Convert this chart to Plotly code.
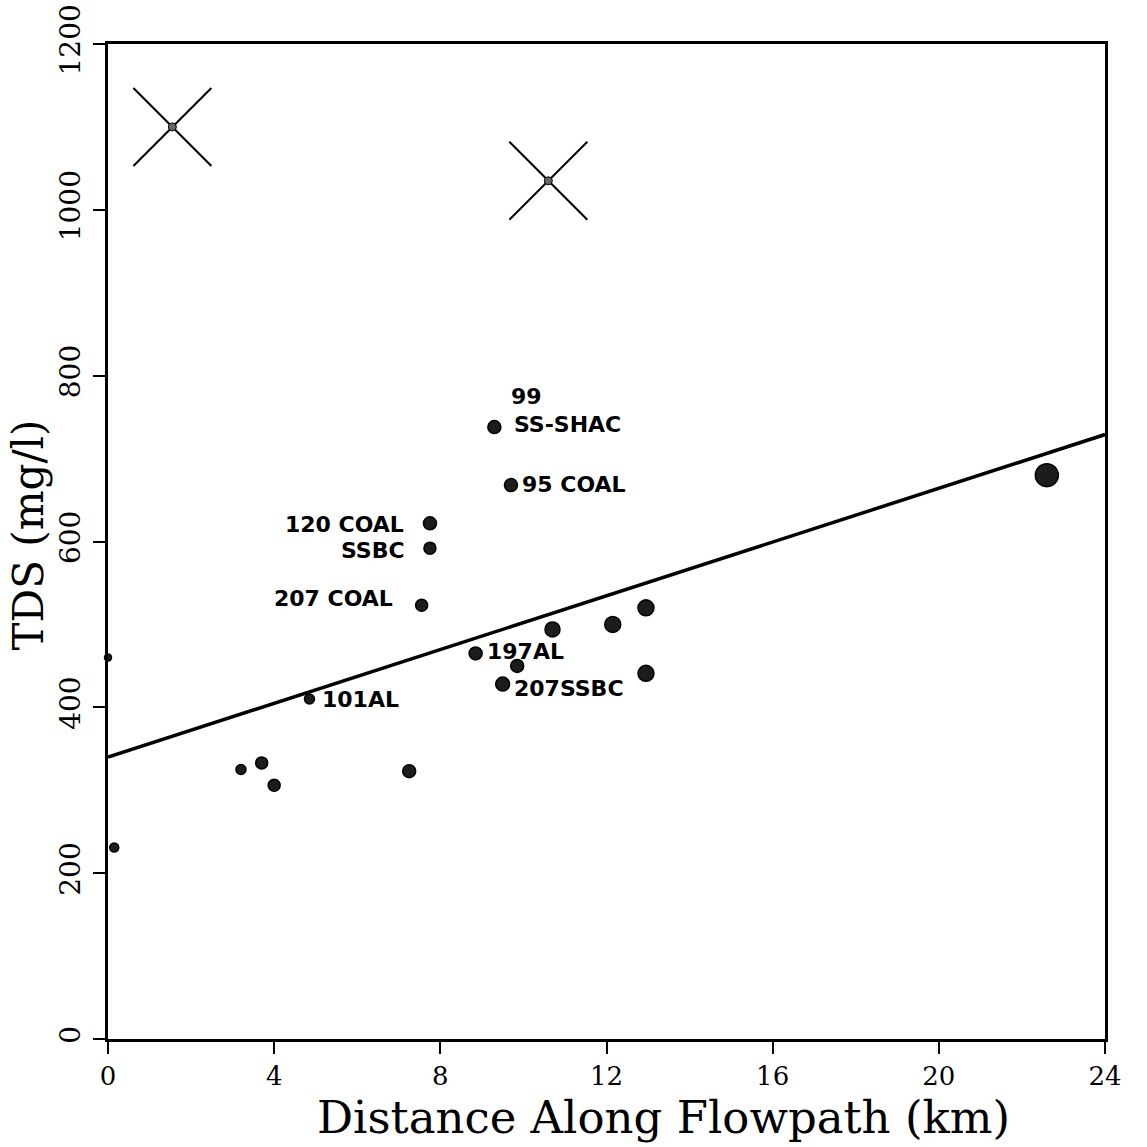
import plotly.graph_objects as go

# ---- data ----
# labelled sampling sites
site_x = [9.3, 9.7, 7.75, 7.75, 7.55, 8.85, 9.5, 4.85]
site_tds = [738, 668, 622, 592, 523, 465, 428, 410]
site_label = ["SS-SHAC", "95 COAL", "120 COAL", "SSBC", "207 COAL", "197AL", "207SSBC", "101AL"]

# unlabelled sampling sites
other_x = [9.85, 10.7, 12.15, 12.95, 12.95, 22.6, 3.2, 3.7, 4.0, 7.25, 0.15, 0.0]
other_tds = [450, 494, 500, 520, 441, 680, 325, 333, 306, 323, 231, 460]

# crossed-out samples
cross_x = [1.55, 10.6]
cross_tds = [1100, 1035]

# regression line end points
fit_x = [0, 24]
fit_tds = [340, 729]

x_ticks = [0, 4, 8, 12, 16, 20, 24]
y_ticks = [0, 200, 400, 600, 800, 1000, 1200]

# ---- styles ----
site_sizes = [13, 13, 13, 12, 12, 13, 14, 10]
other_sizes = [13, 15, 16, 16, 16, 23, 10, 12, 12, 13, 9, 7]
# label placement: (xanchor, xshift, yshift)
label_pos = [("left", 18, 3), ("left", 9, 1), ("right", -24, -1), ("right", -23, -2),
             ("right", -27, 7), ("left", 9, 2), ("left", 9, -4), ("left", 11, 0)]

SERIF = "DejaVu Serif"
SANS = "DejaVu Sans"
DOT_FILL = "#1c1c1c"
LABEL_FONT = dict(family=SANS, size=22, color="black", weight="bold")

fig = go.Figure()

fig.add_trace(go.Scatter(
    x=fit_x, y=fit_tds, mode="lines",
    line=dict(color="black", width=3.5), hoverinfo="skip", cliponaxis=False))

fig.add_trace(go.Scatter(
    x=cross_x, y=cross_tds, mode="markers",
    marker=dict(symbol="x-thin", size=78, line=dict(color="black", width=2)),
    cliponaxis=False))
fig.add_trace(go.Scatter(
    x=cross_x, y=cross_tds, mode="markers",
    marker=dict(symbol="circle", size=8, color="#666", line=dict(color="black", width=1)),
    cliponaxis=False))

fig.add_trace(go.Scatter(
    x=other_x, y=other_tds, mode="markers",
    marker=dict(symbol="circle", size=other_sizes, color=DOT_FILL, opacity=1,
                line=dict(color="black", width=1.5)),
    cliponaxis=False))

fig.add_trace(go.Scatter(
    x=site_x, y=site_tds, mode="markers",
    marker=dict(symbol="circle", size=site_sizes, color=DOT_FILL, opacity=1,
                line=dict(color="black", width=1.5)),
    cliponaxis=False))

for xv, yv, txt, (anc, xs, ys) in zip(site_x, site_tds, site_label, label_pos):
    fig.add_annotation(x=xv, y=yv, text=txt, showarrow=False, xanchor=anc, yanchor="middle",
                       xshift=xs, yshift=ys, font=LABEL_FONT)
# the "99" line above SS-SHAC
fig.add_annotation(x=site_x[0], y=site_tds[0], text="99", showarrow=False, xanchor="left",
                   yanchor="middle", xshift=15, yshift=31, font=LABEL_FONT)

# axis titles placed as annotations (paper coordinates)
fig.add_annotation(xref="paper", yref="paper", x=0.5, y=0, xshift=57, yshift=-78,
                   xanchor="center", yanchor="middle", showarrow=False,
                   text="Distance Along Flowpath (km)",
                   font=dict(family=SERIF, size=45, color="black"))
fig.add_annotation(xref="paper", yref="paper", x=0, y=0.5, xshift=-80, yshift=6,
                   xanchor="center", yanchor="middle", showarrow=False, textangle=-90,
                   text="TDS (mg/l)",
                   font=dict(family=SERIF, size=42, color="black"))

axis_common = dict(
    showline=True, linecolor="black", linewidth=3, mirror=True,
    showgrid=False, zeroline=False, ticks="outside", ticklen=12, tickwidth=2,
    tickcolor="black", fixedrange=True, ticklabeloverflow="allow", automargin=False,
)

fig.update_layout(
    width=1147, height=1147,
    margin=dict(l=108, r=42, t=44, b=108, autoexpand=False),
    paper_bgcolor="white", plot_bgcolor="white",
    showlegend=False,
    xaxis=dict(range=[0, 24], tickvals=x_ticks, ticktext=[str(v) for v in x_ticks],
               tickfont=dict(family=SERIF, size=26, color="black"),
               **axis_common),
    yaxis=dict(range=[0, 1200], tickvals=y_ticks, ticktext=[str(v) for v in y_ticks],
               tickangle=-90, ticklabelstandoff=2,
               tickfont=dict(family=SERIF, size=28, color="black"),
               **axis_common),
)

fig.write_html("out.html")
